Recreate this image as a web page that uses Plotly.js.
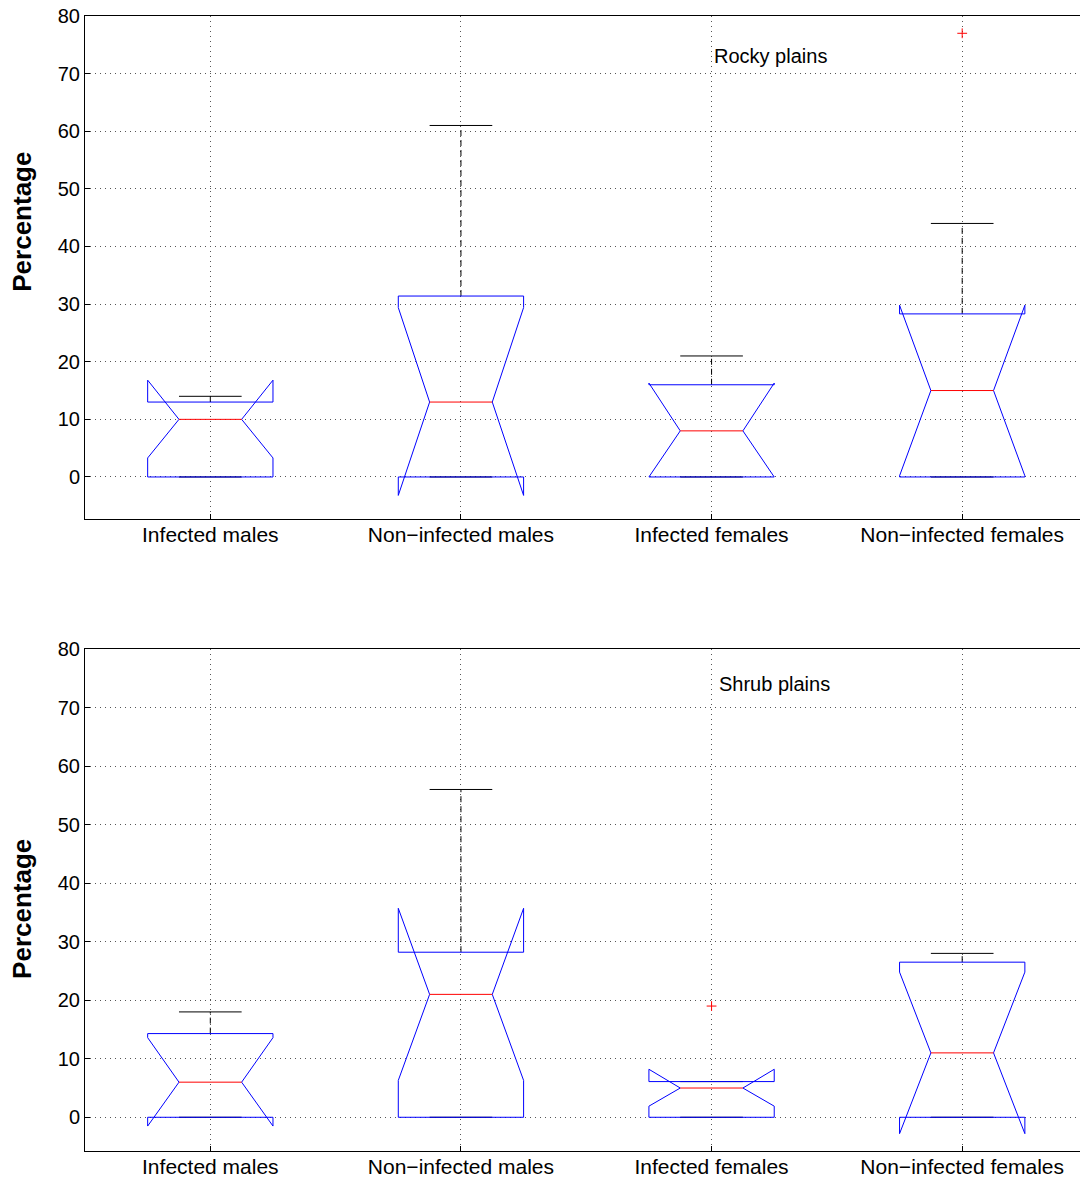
<!DOCTYPE html>
<html>
<head>
<meta charset="utf-8">
<script src="https://cdn.plot.ly/plotly-3.0.1.min.js"></script>
<style>
  html, body { margin: 0; padding: 0; background: #ffffff; }
  #chart { width: 1080px; height: 1178px; }
</style>
</head>
<body>
<div id="chart"></div>
<script>
// ---------------- DATA ----------------
const categories = ['Infected males', 'Non\u2212infected males', 'Infected females', 'Non\u2212infected females'];
const yTickValues = [0, 10, 20, 30, 40, 50, 60, 70, 80];
const yTitle = 'Percentage';
const panelTitles = ['Rocky plains', 'Shrub plains'];

// Rocky plains (top panel)
const rockyQ1        = [0, 0, 0, 0];
const rockyMedian    = [10, 13, 8, 15];
const rockyQ3        = [13, 31.4, 16, 28.3];
const rockyNotchLo   = [3.3, -3.2, 0, 0.2];
const rockyNotchHi   = [16.8, 29.4, 16.3, 29.8];
const rockyWhiskerLo = [0, 0, 0, 0];
const rockyWhiskerHi = [14, 61, 21, 44];
const rockyOutlierGroup = [4];
const rockyOutlierValue = [77];

// Shrub plains (bottom panel)
const shrubQ1        = [0, 0, 0, 0];
const shrubMedian    = [6, 21, 5, 11];
const shrubQ3        = [14.3, 28.2, 6.1, 26.5];
const shrubNotchLo   = [-1.5, 6.3, 1.9, -2.8];
const shrubNotchHi   = [13.6, 35.7, 8.2, 24.8];
const shrubWhiskerLo = [0, 0, 0, 0];
const shrubWhiskerHi = [18, 56, 6.1, 28];
const shrubOutlierGroup = [3];
const shrubOutlierValue = [19];

// ---------------- STYLE ----------------
const BOX_HALF = 0.25;
const NOTCH_HALF = 0.125;
const FONT = 'Liberation Sans, Arial, Helvetica, sans-serif';

function panelTraces(q1, med, q3, nlo, nhi, wlo, whi, og, ov, xa, ya) {
  const bx = [], by = [], mx = [], my = [], wx = [], wy = [], cx = [], cy = [];
  for (let i = 0; i < q1.length; i++) {
    const c = i + 1;
    bx.push(c - BOX_HALF, c - BOX_HALF, c - NOTCH_HALF, c - BOX_HALF, c - BOX_HALF,
            c + BOX_HALF, c + BOX_HALF, c + NOTCH_HALF, c + BOX_HALF, c + BOX_HALF, c - BOX_HALF, null);
    by.push(q1[i], nlo[i], med[i], nhi[i], q3[i], q3[i], nhi[i], med[i], nlo[i], q1[i], q1[i], null);
    mx.push(c - NOTCH_HALF, c + NOTCH_HALF, null);
    my.push(med[i], med[i], null);
    wx.push(c, c, null, c, c, null);
    wy.push(q3[i], whi[i], null, q1[i], wlo[i], null);
    cx.push(c - NOTCH_HALF, c + NOTCH_HALF, null, c - NOTCH_HALF, c + NOTCH_HALF, null);
    cy.push(whi[i], whi[i], null, wlo[i], wlo[i], null);
  }
  const common = { xaxis: xa, yaxis: ya, hoverinfo: 'skip', showlegend: false, type: 'scatter' };
  return [
    Object.assign({ x: wx, y: wy, mode: 'lines', line: { color: '#000000', width: 1, dash: '6px,4px' } }, common),
    Object.assign({ x: cx, y: cy, mode: 'lines', line: { color: '#000000', width: 1 } }, common),
    Object.assign({ x: bx, y: by, mode: 'lines', line: { color: '#0000ff', width: 1 } }, common),
    Object.assign({ x: mx, y: my, mode: 'lines', line: { color: '#ff0000', width: 1 } }, common),
    Object.assign({ x: og, y: ov, mode: 'markers',
      marker: { symbol: 'cross-thin', size: 7, color: '#ff0000', line: { color: '#ff0000', width: 1 } } }, common)
  ];
}

const data = [].concat(
  panelTraces(rockyQ1, rockyMedian, rockyQ3, rockyNotchLo, rockyNotchHi, rockyWhiskerLo, rockyWhiskerHi,
              rockyOutlierGroup, rockyOutlierValue, 'x', 'y'),
  panelTraces(shrubQ1, shrubMedian, shrubQ3, shrubNotchLo, shrubNotchHi, shrubWhiskerLo, shrubWhiskerHi,
              shrubOutlierGroup, shrubOutlierValue, 'x2', 'y2')
);

function xAxis(anchor) {
  return {
    anchor: anchor, domain: [0, 1], range: [0.5, 4.47],
    tickmode: 'array', tickvals: [1, 2, 3, 4], ticktext: categories,
    ticks: 'inside', ticklen: 5, tickcolor: '#000', tickwidth: 1,
    ticklabelstandoff: -3,
    showline: true, linecolor: '#000', linewidth: 1, mirror: true,
    showgrid: true, gridcolor: '#555', griddash: '1px,4px', gridwidth: 1,
    zeroline: false, tickfont: { family: FONT, size: 21, color: '#000' },
    fixedrange: true
  };
}
function yAxis(anchor, domain, range) {
  return {
    anchor: anchor, domain: domain, range: range,
    tickmode: 'array', tickvals: yTickValues,
    ticks: 'inside', ticklen: 5, tickcolor: '#000', tickwidth: 1,
    showline: true, linecolor: '#000', linewidth: 1, mirror: false,
    showgrid: true, gridcolor: '#555', griddash: '1px,4px', gridwidth: 1,
    zeroline: false, tickfont: { family: FONT, size: 20, color: '#000' },
    fixedrange: true
  };
}

const layout = {
  width: 1080, height: 1178,
  margin: { l: 85, r: 0, t: 16, b: 27 },
  paper_bgcolor: '#ffffff', plot_bgcolor: '#ffffff',
  showlegend: false,
  xaxis: xAxis('y'),
  yaxis: yAxis('x', [0.5568, 1], [-7.3, 80]),
  xaxis2: xAxis('y2'),
  yaxis2: yAxis('x2', [0, 0.4423], [-5.76, 80]),
  annotations: [
    { text: panelTitles[0], x: 3.0, y: 73, xref: 'x', yref: 'y', xanchor: 'left', yanchor: 'middle',
      showarrow: false, font: { family: FONT, size: 20, color: '#000' } },
    { text: panelTitles[1], x: 3.02, y: 74, xref: 'x2', yref: 'y2', xanchor: 'left', yanchor: 'middle',
      showarrow: false, font: { family: FONT, size: 20, color: '#000' } },
    { text: yTitle, x: -0.0633, y: 44.3, xref: 'paper', yref: 'y', xanchor: 'center', yanchor: 'middle',
      textangle: -90, showarrow: false, font: { family: FONT, size: 26, color: '#000', weight: 'bold' } },
    { text: yTitle, x: -0.0633, y: 35.6, xref: 'paper', yref: 'y2', xanchor: 'center', yanchor: 'middle',
      textangle: -90, showarrow: false, font: { family: FONT, size: 26, color: '#000', weight: 'bold' } }
  ]
};

Plotly.newPlot('chart', data, layout, { displayModeBar: false, staticPlot: true });
</script>
</body>
</html>
